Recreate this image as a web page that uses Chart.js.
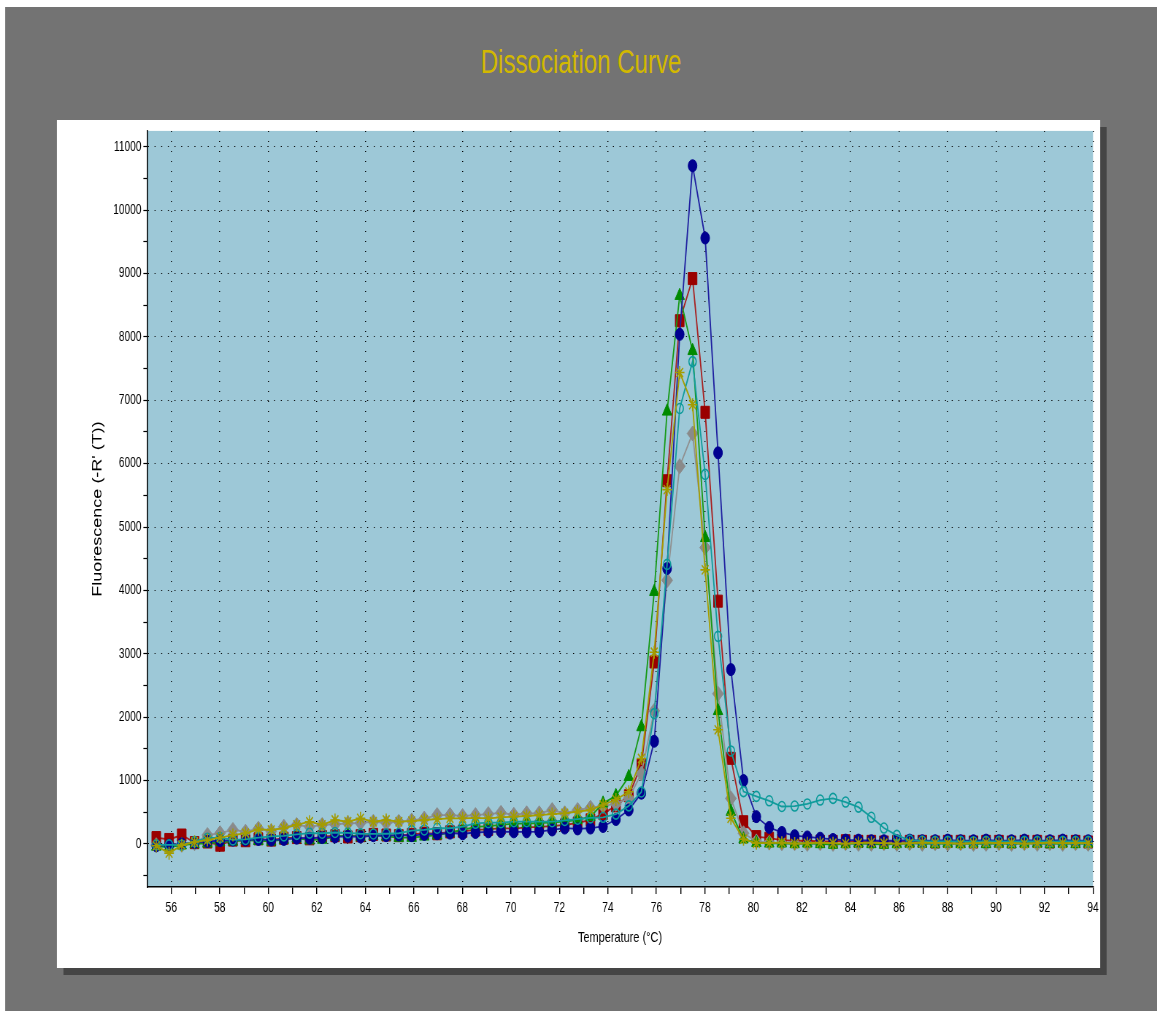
<!DOCTYPE html>
<html>
<head>
<meta charset="utf-8">
<title>Dissociation Curve</title>
<script src="https://cdn.jsdelivr.net/npm/chart.js@4.4.1/dist/chart.umd.min.js"></script>
<style>
  html, body { margin: 0; padding: 0; background: #fff; overflow: hidden; }
  /* the original screenshot is squeezed sideways, so the sheet is laid out wide and squeezed */
  #sheet { position: absolute; left: 0; top: 0; width: 1585px; height: 1017px; transform: scaleX(0.73); transform-origin: 0 0; }
  #frame { position: absolute; left: 7px; top: 7px; width: 1578px; height: 1004px; background: #737373; }
  #title { position: absolute; left: 0; width: 1592px; top: 45px; text-align: center; font: 33px/33px "Liberation Sans", Arial, sans-serif; color: #d2b800; }
  #panel { position: absolute; left: 78px; top: 120px; width: 1429px; height: 848px; background: #fff; box-shadow: 9px 7px 0 #454545; }
</style>
</head>
<body>
<div id="sheet">
  <div id="frame"></div>
  <div id="title">Dissociation Curve</div>
  <div id="panel"><canvas id="chart" width="1429" height="848"></canvas></div>
</div>
<script>
// temperatures of the readings (°C)
const temps = [55.38, 55.91, 56.43, 56.96, 57.49, 58.01, 58.54, 59.06, 59.59, 60.12,
  60.64, 61.17, 61.70, 62.22, 62.75, 63.28, 63.80, 64.33, 64.86, 65.38,
  65.91, 66.43, 66.96, 67.49, 68.01, 68.54, 69.07, 69.59, 70.12, 70.65,
  71.17, 71.70, 72.22, 72.75, 73.28, 73.80, 74.33, 74.86, 75.38, 75.91,
  76.44, 76.96, 77.49, 78.01, 78.54, 79.07, 79.59, 80.12, 80.65, 81.17,
  81.70, 82.22, 82.75, 83.28, 83.80, 84.33, 84.86, 85.38, 85.91, 86.44,
  86.96, 87.49, 88.01, 88.54, 89.07, 89.59, 90.12, 90.64, 91.17, 91.70,
  92.22, 92.75, 93.28, 93.80];

// -R'(T) for each well
const blueWell = [-30, -20, 0, 20, 40, 50, 60, 60, 70, 60,
  70, 90, 90, 100, 110, 120, 110, 130, 130, 140,
  130, 150, 160, 170, 160, 180, 190, 195, 190, 190,
  195, 220, 250, 236, 250, 275, 385, 535, 800, 1620,
  4345, 8040, 10700, 9560, 6170, 2750, 1000, 430, 260, 180,
  130, 110, 90, 70, 60, 60, 50, 50, 50, 60,
  50, 50, 60, 50, 50, 60, 50, 50, 60, 50,
  50, 60, 50, 50];
const redWell = [100, 70, 140, 20, 30, -20, 60, 50, 80, 60,
  90, 100, 80, 115, 130, 110, 130, 150, 140, 130,
  150, 170, 160, 190, 200, 220, 230, 250, 240, 260,
  270, 280, 300, 330, 380, 480, 600, 760, 1250, 2870,
  5730, 8255, 8920, 6810, 3830, 1350, 350, 115, 90, 60,
  50, 50, 40, 40, 50, 40, 40, 30, 40, 40,
  40, 30, 40, 40, 30, 40, 40, 30, 40, 40,
  30, 40, 40, 30];
const greenWell = [-40, -50, -20, 0, 10, 30, 40, 60, 50, 40,
  70, 90, 60, 70, 115, 140, 110, 130, 120, 100,
  100, 120, 140, 180, 220, 270, 280, 300, 320, 320,
  330, 340, 350, 380, 430, 640, 760, 1060, 1845, 3980,
  6825, 8650, 7780, 4830, 2100, 510, 75, 20, 10, 10,
  0, 10, 0, -10, 0, 10, 0, -10, 0, 10,
  10, 0, 10, 0, 10, 0, 10, 0, 10, 10,
  0, 10, 0, 10];
const tealWell = [-15, -15, -20, 36, 90, 100, 63, 70, 100, 120,
  126, 150, 170, 168, 180, 175, 160, 157, 160, 168,
  209, 220, 247, 247, 272, 325, 335, 335, 350, 350,
  350, 350, 370, 390, 410, 420, 470, 600, 820, 2055,
  4410, 6870, 7610, 5830, 3275, 1467, 825, 750, 680, 590,
  597, 630, 692, 718, 660, 580, 420, 250, 135, 60,
  45, 40, 40, 40, 35, 40, 40, 35, 40, 40,
  35, 40, 40, 40];
const grayWell = [-20, -40, -15, 10, 140, 170, 220, 193, 240, 200,
  272, 300, 270, 300, 310, 325, 330, 350, 330, 350,
  370, 400, 455, 455, 440, 455, 470, 490, 460, 483,
  483, 535, 483, 535, 570, 600, 630, 720, 1110, 2100,
  4160, 5960, 6475, 4675, 2370, 718, 168, 40, 20, 10,
  10, 0, 10, 0, 10, 0, 0, 10, 0, 10,
  0, 10, 0, 10, 0, 0, 10, 0, 10, 0,
  10, 0, 10, 0];
const oliveWell = [-30, -146, -20, 30, 60, 100, 140, 168, 230, 220,
  247, 300, 350, 300, 377, 350, 404, 350, 377, 350,
  360, 377, 390, 404, 404, 410, 404, 420, 430, 440,
  455, 470, 483, 510, 535, 615, 700, 822, 1347, 3025,
  5590, 7437, 6930, 4324, 1800, 404, 75, 10, 15, 20,
  5, 10, 20, 10, 5, 15, 20, 10, 5, 10,
  20, 15, 10, 5, 10, 20, 10, 15, 5, 10,
  20, 10, 15, 10];

// axis ticks
const xTickValues = [56, 57, 58, 59, 60, 61, 62, 63, 64, 65, 66, 67, 68, 69, 70, 71, 72, 73, 74, 75,
  76, 77, 78, 79, 80, 81, 82, 83, 84, 85, 86, 87, 88, 89, 90, 91, 92, 93, 94];
const yTickValues = [-500, 0, 500, 1000, 1500, 2000, 2500, 3000, 3500, 4000, 4500, 5000, 5500,
  6000, 6500, 7000, 7500, 8000, 8500, 9000, 9500, 10000, 10500, 11000];

const FONT = '"Liberation Sans", Arial, sans-serif';

function well(values, line, mark, style, radius, hollow) {
    return {
        data: values.map((v, i) => ({ x: temps[i], y: v })),
        borderColor: line,
        borderWidth: 1.8,
        tension: 0,
        pointStyle: style,
        pointRadius: radius,
        pointBackgroundColor: hollow ? 'rgba(0,0,0,0)' : mark,
        pointBorderColor: mark,
        pointBorderWidth: hollow ? 1.6 : 1
    };
}

// fill the plot area light blue
const plotBackground = {
    id: 'plotBackground',
    beforeDraw(chart) {
        const { ctx, chartArea: a } = chart;
        ctx.save();
        ctx.fillStyle = '#9dc8d7';
        ctx.fillRect(a.left, a.top, a.right - a.left, a.bottom - a.top);
        ctx.restore();
    }
};

new Chart(document.getElementById('chart'), {
    type: 'line',
    data: {
        datasets: [
            well(oliveWell, '#a59e00', '#a39c00', 'star', 6.5, true),
            well(tealWell, '#129c9c', '#0a9a9a', 'circle', 5, true),
            well(blueWell, '#1e1ea0', '#000090', 'circle', 6, false),
            well(greenWell, '#169a16', '#008a00', 'triangle', 7.5, false),
            well(grayWell, '#909090', '#8a8a8a', 'rectRot', 7.5, false),
            well(redWell, '#a82020', '#9a0000', 'rect', 8.5, false)
        ]
    },
    options: {
        responsive: false,
        devicePixelRatio: 1,
        animation: false,
        events: [],
        layout: { padding: { top: 8, right: 9.7, left: 0, bottom: 0 } },
        plugins: { legend: { display: false }, tooltip: { enabled: false } },
        scales: {
            x: {
                type: 'linear',
                min: 55,
                max: 94,
                afterBuildTicks: axis => { axis.ticks = xTickValues.map(v => ({ value: v })); },
                afterFit: axis => { axis.height = 81; },
                grid: {
                    color: c => (c.tick && c.tick.value % 2 === 0) ? '#000' : 'rgba(0,0,0,0)',
                    lineWidth: 1.4,
                    tickLength: 7,
                    tickColor: '#000',
                    tickWidth: 1.4
                },
                border: { display: true, color: '#000', width: 1.5, dash: [1, 9] },
                ticks: {
                    autoSkip: false,
                    maxRotation: 0,
                    padding: 0,
                    color: '#000',
                    // tall line box pushes the labels down instead of tick padding
                    font: { family: FONT, size: 14, lineHeight: 2.06 },
                    callback: v => (v % 2 === 0 ? String(v) : '')
                },
                title: {
                    display: true,
                    text: 'Temperature (°C)',
                    color: '#000',
                    font: { family: FONT, size: 15 },
                    padding: { top: 0, bottom: 21 }
                }
            },
            y: {
                type: 'linear',
                min: -680,
                max: 11250,
                afterBuildTicks: axis => { axis.ticks = yTickValues.map(v => ({ value: v })); },
                afterFit: axis => { axis.width = 123.4; },
                grid: {
                    color: c => (c.tick && c.tick.value % 1000 === 0) ? '#000' : 'rgba(0,0,0,0)',
                    lineWidth: 1,
                    tickLength: 5,
                    tickColor: '#000',
                    tickWidth: 1.2
                },
                border: { display: true, color: '#000', width: 1.6, dash: [1.4, 7.7] },
                ticks: {
                    autoSkip: false,
                    padding: 2.5,
                    color: '#000',
                    font: { family: FONT, size: 14 },
                    callback: v => (v % 1000 === 0 ? String(v) : '')
                },
                title: {
                    display: true,
                    text: "Fluorescence (-R' (T))",
                    color: '#000',
                    font: { family: FONT, size: 18 },
                    padding: { top: 45, bottom: 0 }
                }
            }
        }
    },
    plugins: [plotBackground]
});
</script>
</body>
</html>
